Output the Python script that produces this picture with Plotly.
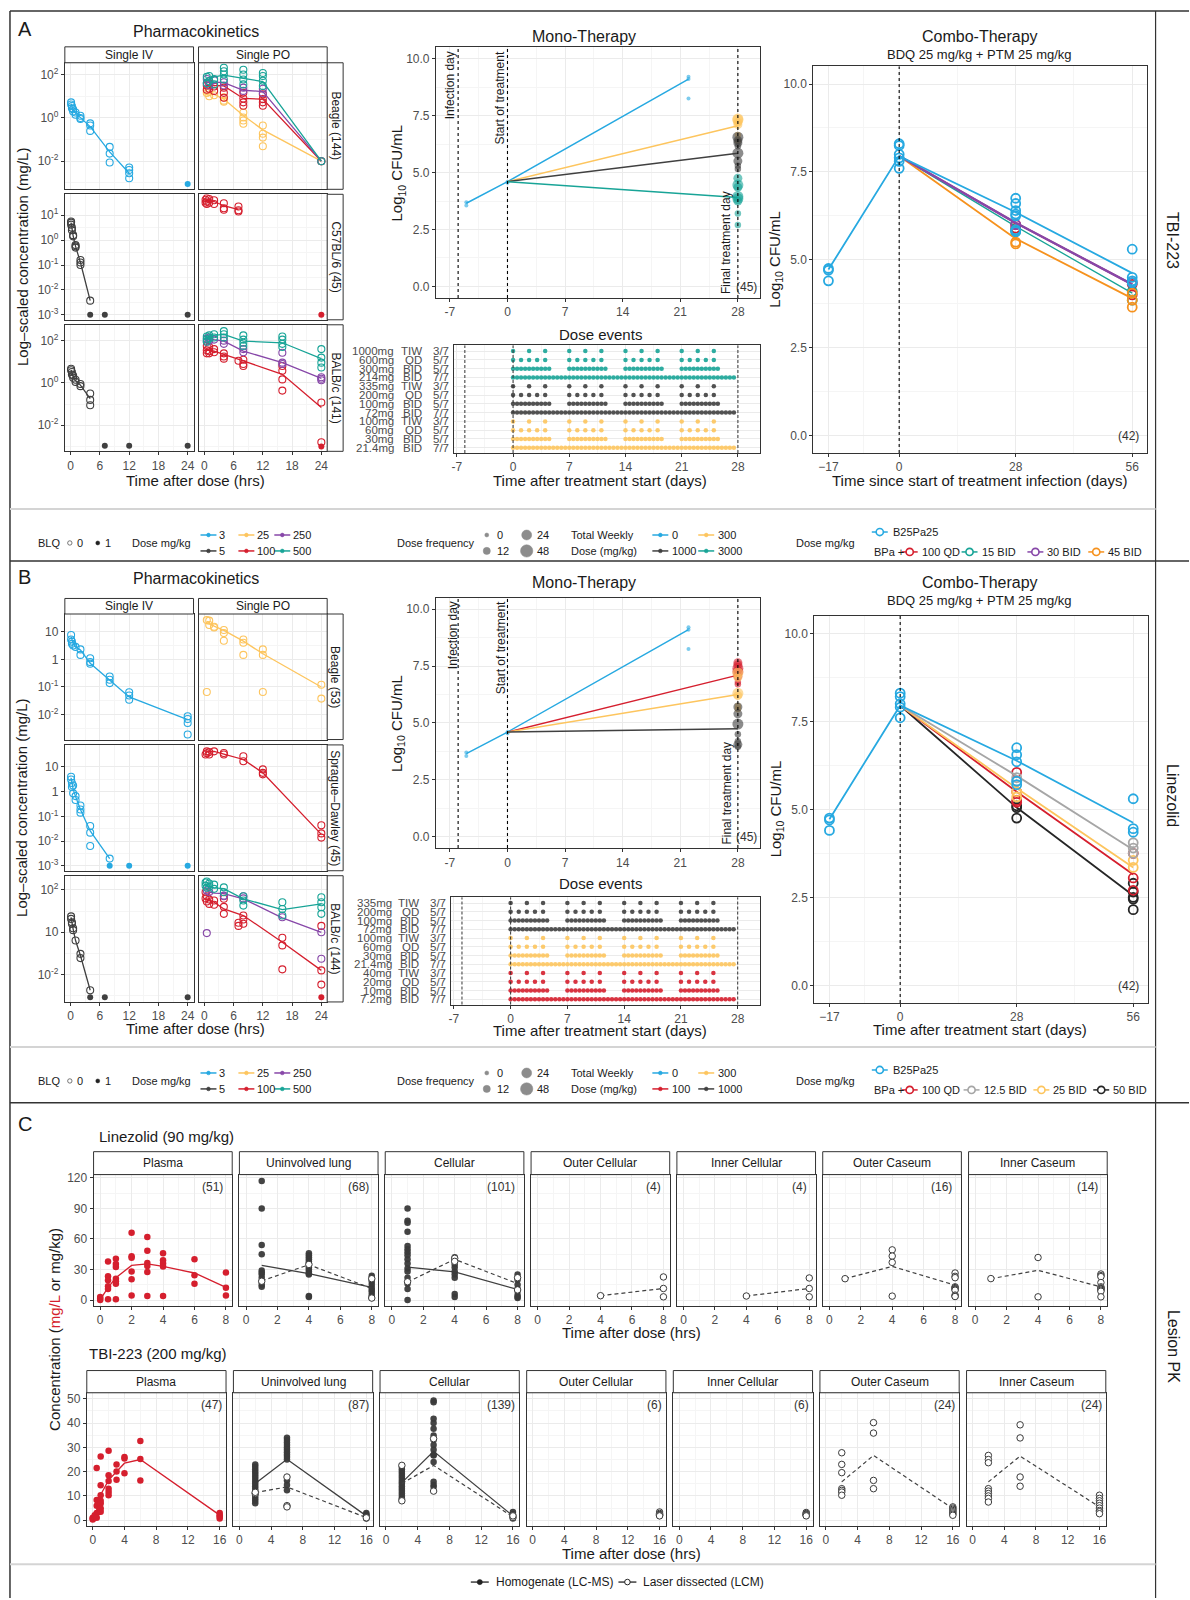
import plotly.graph_objects as go

# ============================ DATA ============================
# ---- Panel A PK (TBI-223), log10 concentration (mg/L); dict: time(h) -> observed values
A_BEAGLE_IV_OBS = {0.083: [0.72, 0.62], 0.25: [0.55, 0.45], 0.5: [0.40, 0.30], 1: [0.25, 0.15], 2: [0.10, 0.00, -0.05],
                   4: [-0.25, -0.35, -0.60], 8: [-1.34, -1.65, -2.06], 12: [-2.29, -2.41, -2.56, -2.79]}
A_BEAGLE_IV_BLQ = {24: [-3.05]}
A_BEAGLE_IV_FIT_T = [0.083, 0.25, 0.5, 1, 2, 4, 8, 12]
A_BEAGLE_IV_FIT_V = [0.66, 0.52, 0.38, 0.22, 0.02, -0.40, -1.57, -2.56]
BEAGLE_PO_FIT_T = [0.5, 1, 2, 4, 8, 12, 24]
A_BEAGLE_PO25_OBS = {0.5: [1.25, 1.15], 1: [1.20, 1.00], 2: [1.05], 4: [0.95, 0.80, 0.75], 8: [0.25, 0.02, -0.12, -0.27],
                     12: [-0.35, -0.73, -0.91, -1.31], 24: [-2.0]}
A_BEAGLE_PO25_FIT_V = [1.22, 1.15, 1.09, 0.87, 0.11, -0.55, -2.0]
A_BEAGLE_PO100_OBS = {0.5: [1.50, 1.30], 1: [1.60, 1.35], 2: [1.45, 1.25], 4: [1.40, 1.16, 0.93], 8: [1.16, 0.90, 0.72, 0.56],
                      12: [1.09, 0.87, 0.72, 0.56], 24: [-2.0]}
A_BEAGLE_PO100_FIT_V = [1.40, 1.56, 1.50, 1.48, 0.90, 0.87, -2.0]
A_BEAGLE_PO250_OBS = {0.5: [1.80, 1.60], 1: [1.70, 1.50], 2: [1.75], 4: [1.65, 1.50], 8: [1.40, 1.25], 12: [1.35, 1.15], 24: [-2.0]}
A_BEAGLE_PO250_FIT_V = [1.63, 1.68, 1.66, 1.63, 1.28, 1.22, -2.0]
A_BEAGLE_PO500_OBS = {0.5: [1.90, 1.60], 1: [1.94, 1.70], 2: [1.80, 1.55], 4: [2.32, 2.16, 2.01, 1.78],
                      8: [2.23, 2.01, 1.78, 1.55], 12: [2.08, 1.94, 1.72, 1.48], 24: [-2.0]}
A_BEAGLE_PO500_FIT_V = [1.70, 1.80, 1.90, 1.98, 1.83, 1.68, -2.0]

IV_FIT_T6 = [0.083, 0.25, 0.5, 1, 2, 4]
A_C57_IV_OBS = {0.083: [0.75, 0.70, 0.62], 0.25: [0.50, 0.40], 0.5: [0.20, 0.15], 1: [-0.20, -0.25, -0.30],
                2: [-0.80, -0.90, -1.00], 4: [-2.43]}
A_C57_IV_BLQ = {4: [-3.0], 7: [-3.0], 24: [-3.0]}
A_C57_IV_FIT_V = [0.70, 0.45, 0.17, -0.25, -0.90, -2.43]
A_C57_PO100_OBS = {0.25: [1.50, 1.62], 0.5: [1.68, 1.55, 1.45], 1: [1.65, 1.50], 2: [1.60, 1.45], 4: [1.48, 1.28, 1.22],
                   7: [1.35, 1.20, 1.15]}
A_C57_PO100_BLQ = {24: [-3.0]}
A_C57_PO100_FIT_T = [0.25, 0.5, 1, 2, 4, 7]
A_C57_PO100_FIT_V = [1.55, 1.58, 1.60, 1.55, 1.38, 1.22]

A_BALB_IV_OBS = {0.083: [0.67, 0.60], 0.25: [0.52, 0.40], 0.5: [0.35, 0.25], 1: [0.15, 0.05], 2: [-0.05, -0.15],
                 4: [-0.50, -0.80, -1.05]}
A_BALB_IV_BLQ = {7: [-2.97], 12: [-2.97], 24: [-2.97]}
A_BALB_IV_FIT_V = [0.62, 0.46, 0.30, 0.10, -0.10, -0.74]
BALB_PO_FIT_T = [0.5, 1, 2, 4, 8, 16, 24]
A_BALB_PO100_OBS = {0.5: [1.75, 1.55, 1.40], 1: [1.70, 1.50, 1.40], 2: [1.60, 1.45], 4: [1.40, 1.25, 1.15], 7: [1.05],
                    8: [1.10, 0.90, 0.80], 16: [0.80, 0.58, 0.17, -0.36], 24: [-0.92, -2.80]}
A_BALB_PO100_BLQ = {24: [-3.0]}
A_BALB_PO100_FIT_V = [1.60, 1.55, 1.50, 1.35, 1.04, 0.41, -1.16]
A_BALB_PO250_OBS = {0.5: [2.10, 1.95], 1: [2.15, 2.00], 2: [2.05], 4: [2.00, 1.85], 8: [1.60, 1.45], 16: [1.43, 0.96, 0.90],
                    24: [0.27, 0.13, 0.20]}
A_BALB_PO250_FIT_V = [2.05, 2.10, 2.05, 1.98, 1.51, 0.96, 0.22]
A_BALB_PO500_OBS = {0.5: [2.20, 2.05, 1.95], 1: [2.25, 2.10], 2: [2.30, 2.15], 4: [2.45, 2.30, 2.15], 8: [2.25, 2.05, 1.90, 1.75],
                    16: [2.20, 2.05, 1.85, 1.70], 24: [1.60, 1.20, 0.96, 0.73]}
A_BALB_PO500_FIT_V = [2.10, 2.20, 2.25, 2.30, 1.98, 1.90, 1.15]

# ---- Panel B PK (Linezolid)
B_BEAGLE_IV_OBS = {0.083: [0.88, 0.72], 0.25: [0.64, 0.56], 0.5: [0.50], 1: [0.45], 2: [0.36, 0.16], 4: [0.04, -0.10, -0.16],
                   8: [-0.62, -0.74, -0.86], 12: [-1.19, -1.31, -1.46], 24: [-2.06, -2.16, -2.30, -2.72]}
B_BEAGLE_IV_FIT_T = [0.083, 0.25, 0.5, 1, 2, 4, 8, 12, 24]
B_BEAGLE_IV_FIT_V = [0.82, 0.68, 0.58, 0.45, 0.34, -0.14, -0.74, -1.36, -2.18]
B_BEAGLE_PO25_OBS = {0.5: [1.42, -1.18], 1: [1.40, 1.24], 2: [1.18, 1.15], 4: [1.06, 0.95, 0.67], 8: [0.72, 0.60, 0.16],
                     12: [0.36, 0.16, -1.18], 24: [-0.92, -1.42]}
B_BEAGLE_PO25_FIT_V = [1.38, 1.30, 1.20, 1.05, 0.66, 0.20, -1.00]
B_SD_IV_OBS = {0.083: [0.60, 0.49], 0.25: [0.35, 0.19], 0.5: [0.25, -0.07], 1: [-0.18, -0.34], 2: [-0.56, -0.72, -0.85],
               4: [-1.39, -1.66, -2.20], 8: [-2.71]}
B_SD_IV_BLQ = {8: [-3.0], 12: [-3.0], 24: [-3.0]}
B_SD_IV_FIT_T = [0.083, 0.25, 0.5, 1, 2, 4, 8]
B_SD_IV_FIT_V = [0.56, 0.35, 0.10, -0.20, -0.72, -1.59, -2.71]
B_SD_PO100_OBS = {0.25: [1.50], 0.5: [1.63, 1.55], 1: [1.60, 1.50], 2: [1.63], 4: [1.56, 1.50], 8: [1.43, 1.23],
                  12: [0.90, 0.76, 0.70], 24: [-1.36, -1.69, -1.86]}
B_SD_PO100_FIT_T = [0.25, 0.5, 1, 2, 4, 8, 12, 24]
B_SD_PO100_FIT_V = [1.56, 1.60, 1.62, 1.63, 1.52, 1.30, 0.76, -1.73]
B_BALB_IV_OBS = {0.083: [0.75, 0.63], 0.25: [0.47, 0.40], 0.5: [0.19, 0.10], 1: [-0.39], 2: [-1.02, -1.22], 4: [-2.74]}
B_BALB_IV_BLQ = {4: [-3.07], 7: [-3.07], 24: [-3.07]}
B_BALB_IV_FIT_V = [0.70, 0.45, 0.15, -0.39, -1.10, -2.74]
B_BALB_PO_FIT_T = [0.25, 0.5, 1, 2, 4, 8, 16, 24]
B_BALB_PO100_OBS = {0.25: [1.89, 1.60], 0.5: [1.70, 1.45], 1: [1.55, 1.34], 2: [1.50, 1.30], 4: [1.58, 1.20, 0.87],
                    7: [0.30, 0.45], 8: [0.79, 0.60, 0.40], 16: [-0.26, -0.62, -1.75], 24: [0.30, -1.80, -2.47]}
B_BALB_PO100_BLQ = {24: [-3.07]}
B_BALB_PO100_FIT_V = [1.58, 1.55, 1.50, 1.42, 1.10, 0.79, -0.47, -1.80]
B_BALB_PO250_OBS = {0.5: [1.97, -0.04], 1: [1.90], 4: [1.73, 1.70], 8: [1.70, 1.60], 16: [0.71], 24: [0.00, -1.25]}
B_BALB_PO250_FIT_T = [0.5, 1, 2, 4, 8, 16, 24]
B_BALB_PO250_FIT_V = [1.97, 1.90, 1.85, 1.82, 1.58, 0.68, 0.00]
B_BALB_PO500_OBS = {0.25: [2.35, 2.20], 0.5: [2.40, 2.10], 1: [2.30, 2.15], 2: [2.25, 2.05], 4: [2.12, 1.89],
                    8: [1.70, 1.50, 1.26], 16: [1.42, 1.10, 0.79], 24: [1.65, 1.42, 1.18, 0.87]}
B_BALB_PO500_FIT_V = [2.27, 2.20, 2.15, 2.10, 2.06, 1.58, 1.07, 1.34]

# ---- Mono-therapy (log10 CFU/mL)
MONO_CTRL_OBS = {-5: [3.70, 3.55], 0: [4.60, 4.55], 22: [9.20, 9.10, 8.25]}
MONO_CTRL_FIT_T = [-5, 0, 22]
MONO_CTRL_FIT_V = [3.65, 4.60, 9.10]
MONO_FIT_T = [0, 28]
FINAL_DAY = 28
A_MONO_300_FIT_V = [4.60, 7.05]
A_MONO_300_D28 = [7.35, 7.30, 7.20, 7.10, 6.65, 6.40]
A_MONO_300_FREQ = [48, 48, 24, 24, 12, 12]
A_MONO_1000_FIT_V = [4.60, 5.85]
A_MONO_1000_D28 = [6.55, 6.40, 6.30, 6.15, 5.85, 5.50, 5.30, 5.15]
A_MONO_1000_FREQ = [48, 24, 24, 12, 48, 24, 12, 12]
A_MONO_3000_FIT_V = [4.60, 3.90]
A_MONO_3000_D28 = [4.75, 4.45, 4.35, 3.95, 3.85, 3.75, 3.20, 2.70]
A_MONO_3000_FREQ = [24, 48, 24, 48, 48, 24, 12, 12]
B_MONO_100_FIT_V = [4.60, 7.10]
B_MONO_100_D28 = [7.65, 7.55, 7.40, 7.25, 7.05, 6.80, 6.70]
B_MONO_100_FREQ = [24, 24, 48, 48, 24, 12, 12]
B_MONO_300_FIT_V = [4.60, 6.25]
B_MONO_300_D28 = [7.20, 7.00, 6.30, 6.20, 5.75, 5.60]
B_MONO_300_FREQ = [48, 24, 48, 24, 12, 12]
B_MONO_1000_FIT_V = [4.60, 4.75]
B_MONO_1000_D28 = [5.70, 5.40, 4.95, 4.50, 4.20, 4.05, 3.95]
B_MONO_1000_FREQ = [24, 24, 48, 12, 12, 24, 12]

# ---- Dose events
A_DOSE_LABELS = ["1000mg", "600mg", "300mg", "214mg", "335mg", "200mg", "100mg", "72mg", "100mg", "60mg", "30mg", "21.4mg"]
B_DOSE_LABELS = ["335mg", "200mg", "100mg", "72mg", "100mg", "60mg", "30mg", "21.4mg", "40mg", "20mg", "10mg", "7.2mg"]
DOSE_REGIMEN = ["TIW", "QD", "BID", "BID", "TIW", "QD", "BID", "BID", "TIW", "QD", "BID", "BID"]
DOSE_FRACTION = ["3/7", "5/7", "5/7", "7/7", "3/7", "5/7", "5/7", "7/7", "3/7", "5/7", "5/7", "7/7"]
TIW_DAYS = [0, 2, 4, 7, 9, 11, 14, 16, 18, 21, 23, 25]
QD5_DAYS = [0, 1, 2, 3, 4, 7, 8, 9, 10, 11, 14, 15, 16, 17, 18, 21, 22, 23, 24, 25]
BID5_DAYS = [0, 0.5, 1, 1.5, 2, 2.5, 3, 3.5, 4, 4.5, 7, 7.5, 8, 8.5, 9, 9.5, 10, 10.5, 11, 11.5,
             14, 14.5, 15, 15.5, 16, 16.5, 17, 17.5, 18, 18.5, 21, 21.5, 22, 22.5, 23, 23.5, 24, 24.5, 25, 25.5]
BID7_DAYS = [0, 0.5, 1, 1.5, 2, 2.5, 3, 3.5, 4, 4.5, 5, 5.5, 6, 6.5, 7, 7.5, 8, 8.5, 9, 9.5, 10, 10.5, 11, 11.5,
             12, 12.5, 13, 13.5, 14, 14.5, 15, 15.5, 16, 16.5, 17, 17.5, 18, 18.5, 19, 19.5, 20, 20.5, 21, 21.5,
             22, 22.5, 23, 23.5, 24, 24.5, 25, 25.5, 26, 26.5, 27, 27.5]

# ---- Combo-therapy (log10 CFU/mL)
COMBO_CTRL_FIT_T = [-17, 0, 28, 56]
COMBO_FIT_T = [0, 28, 56]
A_COMBO_CTRL_OBS = {-17: [4.75, 4.70, 4.40], 0: [8.30, 8.25, 8.00, 7.90, 7.80, 7.60],
                    28: [6.75, 6.60, 6.40, 6.30, 6.25, 5.85, 5.80], 56: [5.30, 4.50, 4.40, 4.35]}
A_COMBO_CTRL_FIT_V = [4.72, 7.95, 6.35, 4.62]
A_COMBO_100QD_OBS = {28: [6.00, 5.90], 56: [4.30, 4.00]}
A_COMBO_100QD_FIT_V = [7.95, 6.05, 4.30]
A_COMBO_15BID_OBS = {28: [5.85, 5.80], 56: [4.10, 3.85]}
A_COMBO_15BID_FIT_V = [7.95, 5.95, 4.05]
A_COMBO_30BID_OBS = {28: [6.00], 56: [4.35]}
A_COMBO_30BID_FIT_V = [7.95, 6.05, 4.30]
A_COMBO_45BID_OBS = {28: [5.50, 5.45], 56: [4.05, 3.85, 3.65]}
A_COMBO_45BID_FIT_V = [7.95, 5.60, 3.90]
B_COMBO_CTRL_OBS = {-17: [4.75, 4.70, 4.40], 0: [8.30, 8.20, 8.00, 7.90, 7.60],
                    28: [6.75, 6.55, 6.35, 5.80, 5.70], 56: [5.30, 4.45, 4.35]}
B_COMBO_CTRL_FIT_V = [4.72, 7.95, 6.38, 4.62]
B_COMBO_100QD_OBS = {28: [6.05, 5.50, 5.25, 5.20], 56: [3.75, 3.05, 2.70]}
B_COMBO_100QD_FIT_V = [7.95, 5.50, 3.15]
B_COMBO_125BID_OBS = {28: [5.90, 5.80], 56: [4.05, 3.90, 3.75]}
B_COMBO_125BID_FIT_V = [7.95, 5.95, 3.85]
B_COMBO_25BID_OBS = {28: [5.50, 5.35], 56: [3.55, 3.35]}
B_COMBO_25BID_FIT_V = [7.95, 5.60, 3.35]
B_COMBO_50BID_OBS = {28: [5.10, 5.05, 4.75], 56: [2.90, 2.65, 2.50, 2.45, 2.15]}
B_COMBO_50BID_FIT_V = [7.95, 5.05, 2.55]

# ---- Panel C lesion PK (mg/L or mg/kg)
C_TISSUES = ["Plasma", "Uninvolved lung", "Cellular", "Outer Cellular", "Inner Cellular", "Outer Caseum", "Inner Caseum"]
LZD_COUNTS = ["(51)", "(68)", "(101)", "(4)", "(4)", "(16)", "(14)"]
TBI_COUNTS = ["(47)", "(87)", "(139)", "(6)", "(6)", "(24)", "(24)"]
LZD_PLASMA = {0: [0.0, 1.5, 3.0], 0.5: [38.0, 23.5, 19.5, 13.5, 11.0, 0.7], 1: [40.5, 35.5, 32.5, 21.0, 18.5, 16.0, 0.7],
              2: [66.0, 43.0, 41.5, 28.0, 20.5, 4.5], 3: [62.0, 48.5, 36.5, 33.5, 27.5, 4.0], 4: [46.0, 39.0, 36.0, 33.0, 4.0],
              6: [40.0, 24.5, 16.0], 8: [27.0, 12.0, 4.5]}
LZD_PLASMA_FIT_T = [0, 0.5, 1, 2, 3, 4, 6, 8]
LZD_PLASMA_FIT_V = [0.5, 12.3, 22.0, 34.0, 35.5, 33.0, 26.6, 12.4]
LZD_T3 = [1, 4, 8]
LZD_LUNG_HOM = {1: [117, 90, 54, 45, 29, 27, 25, 22, 18, 15, 13], 4: [46, 44, 42, 40, 38, 36, 34, 32, 30, 28, 26, 25, 4, 3],
                8: [24, 22, 20, 18, 15, 12, 10, 8, 5, 3, 2]}
LZD_LUNG_HOM_FIT_V = [34.0, 26.0, 12.4]
LZD_LUNG_LCM = {1: [18.5], 4: [35.0], 8: [21.0, 2.0]}
LZD_LUNG_LCM_FIT_V = [18.9, 34.7, 11.4]
LZD_CELL_HOM = {1: [90, 78, 76, 67, 53, 50, 47, 44, 40, 36, 31, 28, 22, 16, 11, 0], 4: [42, 40, 38, 35, 32, 28, 25, 22, 6, 3],
                8: [25, 22, 20, 15, 11, 9, 5, 3, 2]}
LZD_CELL_HOM_FIT_V = [32.4, 27.6, 10.4]
LZD_CELL_LCM = {1: [18.0], 4: [41.0, 38.0], 8: [22.0, 10.0]}
LZD_CELL_LCM_FIT_V = [17.8, 40.0, 16.2]
LZD_T2 = [4, 8]
LZD_OCELL_LCM = {4: [4.3], 8: [22.7, 11.4, 3.2]}
LZD_OCELL_LCM_FIT_V = [4.3, 11.4]
LZD_ICELL_LCM = {4: [4.0], 8: [21.7, 11.4, 3.2]}
LZD_ICELL_LCM_FIT_V = [4.0, 11.4]
LZD_OCAS_LCM = {1: [21.0], 4: [49.3, 43.2, 37.0, 3.9], 8: [26.6, 23.3, 22.0, 13.0, 12.3, 11.4, 10.5, 9.7, 4.9, 3.9, 3.5]}
LZD_OCAS_LCM_FIT_V = [21.0, 33.1, 14.6]
LZD_ICAS_LCM = {1: [21.1], 4: [41.8, 3.2], 8: [25.6, 24.0, 23.0, 17.2, 13.0, 12.0, 11.4, 10.7, 9.7, 8.7, 3.2]}
LZD_ICAS_LCM_FIT_V = [21.0, 29.2, 13.0]

TBI_PLASMA = {0: [0.3, 0.7, 1.0], 0.25: [1.4, 2.1], 0.5: [21.5, 8.3, 6.0, 3.0, 1.0], 0.75: [8.2, 7.0, 3.4],
              1: [26.3, 14.4, 10.3, 8.0, 6.9, 4.8, 3.5], 2: [28.6, 18.5, 16.2, 13.0, 11.6, 10.3], 3: [23.0, 20.1, 16.7],
              4: [26.0, 25.4, 19.3], 6: [32.6, 25.2, 16.4], 16: [3.0, 2.05, 1.5, 0.7]}
TBI_PLASMA_FIT_T = [0, 0.25, 0.5, 1, 2, 3, 4, 6, 16]
TBI_PLASMA_FIT_V = [0.3, 1.5, 4.0, 10.5, 16.5, 20.1, 23.5, 25.0, 2.1]
TBI_T3 = [2, 6, 16]
TBI_LUNG_HOM = {2: [23, 22, 21, 20, 19, 18, 17, 16, 15, 14, 13, 12, 11, 10, 9, 8, 7],
                6: [34, 33, 32, 31, 30, 29, 28, 27, 26, 25, 16.4, 14.5, 12.3], 16: [3.0, 2.5, 2.0, 1.5, 1.0, 0.7]}
TBI_LUNG_HOM_FIT_V = [15.1, 25.1, 1.8]
TBI_LUNG_LCM = {2: [11.0, 11.5], 6: [17.8, 6.0, 5.5], 16: [1.0]}
TBI_LUNG_LCM_FIT_V = [11.4, 13.7, 1.1]
TBI_CELL_HOM = {2: [22, 21, 20, 19, 18, 17, 16, 15, 14, 13, 12, 11, 10, 9, 8.5],
                6: [49.3, 48.6, 41.8, 40.0, 37.7, 34.9, 33.0, 31.0, 29.0, 27.0, 26.7, 24.0, 15.8, 14.5, 13.7],
                16: [3.4, 2.5, 2.0, 1.5, 1.0, 0.7]}
TBI_CELL_HOM_FIT_V = [15.5, 28.4, 1.8]
TBI_CELL_LCM = {2: [22.6, 8.0], 6: [33.6, 12.0], 16: [1.2, 1.8]}
TBI_CELL_LCM_FIT_V = [15.1, 22.6, 1.4]
TBI_OCELL_LCM = {16: [3.4, 2.8, 2.4, 2.2, 2.0, 1.8]}
TBI_ICELL_LCM = {16: [3.2, 2.8, 2.5, 2.2, 2.0, 1.8]}
TBI_OCAS_LCM = {2: [27.8, 23.0, 19.6, 13.0, 12.3, 11.6, 10.3], 6: [40.2, 35.9, 16.4, 13.0],
                16: [5.5, 5.0, 4.5, 4.0, 3.5, 3.0, 2.5, 2.05]}
TBI_OCAS_LCM_FIT_V = [15.8, 26.7, 4.8]
TBI_ICAS_LCM = {2: [26.7, 25.0, 23.7, 13.0, 12.0, 11.0, 10.0, 9.0, 7.5], 6: [39.3, 33.9, 17.8, 14.0],
                16: [10.3, 9.0, 8.0, 7.0, 6.0, 5.0, 4.0, 3.5, 2.7]}
TBI_ICAS_LCM_FIT_V = [15.8, 26.4, 5.5]

# ============================ STYLE ============================
W, H = 1190, 1600
FONT = "Liberation Sans, Arial, sans-serif"
INK = "#1A1A1A"
TICKC = "#4D4D4D"
GRID = "#EBEBEB"
GRIDMINOR = "#F5F5F5"
BORDER = "#333333"
BLUE = "#27A9E1"
DGREY = "#404040"
YELLOW = "#FDC55E"
RED = "#D51F2E"
PURPLE = "#8747A8"
TEAL = "#18A497"
ORANGE = "#F6921E"
LGREY = "#A6A6A6"
BLACK = "#262626"
FREQ_SIZE = {0: 4, 12: 6.5, 24: 9, 48: 11}

fig = go.Figure()
LAYOUT = {}
SHAPES = []
ANNS = []
AXN = [0]


def px(x):
    return x / W


def py(y):
    return 1 - y / H


def text(x, y, s, size=12, color=INK, xanchor="center", yanchor="middle", angle=0):
    ANNS.append(dict(x=px(x), y=py(y), xref="paper", yref="paper", text=s, showarrow=False,
                     font=dict(family=FONT, size=size, color=color), xanchor=xanchor, yanchor=yanchor,
                     textangle=angle))


def pline(x0, y0, x1, y1, color, width, dash=None):
    SHAPES.append(dict(type="line", xref="paper", yref="paper", x0=px(x0), y0=py(y0), x1=px(x1), y1=py(y1),
                       line=dict(color=color, width=width, dash=dash)))


def prect(x0, y0, x1, y1, fill="white", color=BORDER, width=1):
    SHAPES.append(dict(type="rect", xref="paper", yref="paper", x0=px(x0), y0=py(y1), x1=px(x1), y1=py(y0),
                       fillcolor=fill, line=dict(color=color, width=width)))


def pcircle(cx, cy, r, fill, color, width=1):
    SHAPES.append(dict(type="circle", xref="paper", yref="paper", x0=px(cx - r), x1=px(cx + r),
                       y0=py(cy + r), y1=py(cy - r), fillcolor=fill, line=dict(color=color, width=width)))


def axes(box, xr, yr, xt, yt, xtt=None, ytt=None, xminor=None, yminor=None, xlab=True, ylab=True, fs=12):
    AXN[0] += 1
    n = AXN[0]
    s = "" if n == 1 else str(n)
    x0, y0, x1, y1 = box

    def base():
        return dict(showgrid=True, gridcolor=GRID, gridwidth=1, zeroline=False, showline=True, mirror=True,
                    linecolor=BORDER, linewidth=1, tickfont=dict(family=FONT, size=fs, color=TICKC),
                    tickcolor=BORDER, ticklen=3, tickwidth=1, fixedrange=True, tickmode="array")
    xa = base()
    ya = base()
    xa.update(domain=[px(x0), px(x1)], range=xr, anchor="y" + s, tickvals=xt, showticklabels=xlab,
              ticks="outside" if xlab else "")
    ya.update(domain=[py(y1), py(y0)], range=yr, anchor="x" + s, tickvals=yt, showticklabels=ylab,
              ticks="outside" if ylab else "")
    if xlab:
        xa["ticktext"] = xtt if xtt is not None else [str(v) for v in xt]
    if ylab:
        ya["ticktext"] = ytt if ytt is not None else [str(v) for v in yt]
    if xminor:
        xa["minor"] = dict(tickmode="array", tickvals=xminor, showgrid=True, gridcolor=GRIDMINOR, gridwidth=1, ticks="")
    if yminor:
        ya["minor"] = dict(tickmode="array", tickvals=yminor, showgrid=True, gridcolor=GRIDMINOR, gridwidth=1, ticks="")
    LAYOUT["xaxis" + s] = xa
    LAYOUT["yaxis" + s] = ya
    return ("x" + s, "y" + s)


def flat(d):
    t, v = [], []
    for k, vals in d.items():
        for val in vals:
            t.append(k)
            v.append(val)
    return t, v


def add_line(ax, t, v, color, width=1.3, dash=None):
    fig.add_trace(go.Scatter(x=t, y=v, xaxis=ax[0], yaxis=ax[1], mode="lines",
                             line=dict(color=color, width=width, dash=dash), showlegend=False, hoverinfo="skip"))


def add_pts(ax, t, v, color, symbol="circle-open", size=7, lw=1.1, fill=None, opacity=1.0):
    m = dict(symbol=symbol, size=size, opacity=opacity)
    if symbol == "circle-open":
        m.update(color=color, line=dict(width=lw, color=color))
    elif fill is not None:
        m.update(color=fill, line=dict(width=lw, color=color))
    else:
        m.update(color=color, line=dict(width=0))
    fig.add_trace(go.Scatter(x=t, y=v, xaxis=ax[0], yaxis=ax[1], mode="markers", marker=m,
                             showlegend=False, hoverinfo="skip"))


def vdash(ax, x, color="black", width=1.1, dash="3px,3px"):
    SHAPES.append(dict(type="line", xref=ax[0], yref=ax[1] + " domain", x0=x, x1=x, y0=0, y1=1,
                       line=dict(color=color, width=width, dash=dash)))


def pk_group(ax, color, obs, fit_t, fit_v, blq=None):
    add_line(ax, fit_t, fit_v, color, 1.3)
    t, v = flat(obs)
    add_pts(ax, t, v, color, "circle-open", 7, 1.1)
    if blq:
        t, v = flat(blq)
        add_pts(ax, t, v, color, "circle", 6)


# ============================ FRAME ============================
pline(8, 7, 8, 1600, BORDER, 1.5)
pline(8, 7, 1190, 7, BORDER, 1.5)
pline(1156.5, 7, 1156.5, 1600, BORDER, 1.2)
pline(8, 559, 1190, 559, BORDER, 1.5)
pline(8, 1103, 1190, 1103, BORDER, 1.5)
for yy in (507, 1047, 1566):
    pline(8, yy, 1156.5, yy, "#D4D4D4", 2)
text(23, 25, "A", 20)
text(23, 575, "B", 20)
text(23, 1124, "C", 20)
text(1174, 237, "TBI-223", 16, angle=90)
text(1174, 794, "Linezolid", 16, angle=90)
text(1174, 1347, "Lesion PK", 16, angle=90)

# ============================ PK PANELS ============================
PK_XR = [-1.2, 25.2]
PK_XT = [0, 6, 12, 18, 24]
PK_XMINOR = [3, 9, 15, 21]


def sup(e):
    return "10<sup>%s</sup>" % e


def pk_block(rows, yrs, yts, ytts, yminors, row_labels, strip_y, title_y, xtitle_y):
    out = []
    for i in range(3):
        y0, y1 = rows[i]
        last = i == 2
        iv = axes((63, y0, 192, y1), PK_XR, yrs[i], PK_XT, yts[i], ytt=ytts[i], xminor=PK_XMINOR,
                  yminor=yminors[i], xlab=last, ylab=True)
        po = axes((197, y0, 326, y1), PK_XR, yrs[i], PK_XT, yts[i], ytt=ytts[i], xminor=PK_XMINOR,
                  yminor=yminors[i], xlab=last, ylab=False)
        prect(326, y0, 342, y1)
        text(334.5, (y0 + y1) / 2, row_labels[i], 12, INK, angle=90)
        out.append((iv, po))
    prect(63, strip_y[0], 192, strip_y[1])
    prect(197, strip_y[0], 326, strip_y[1])
    text(127.5, (strip_y[0] + strip_y[1]) / 2, "Single IV", 12)
    text(261.5, (strip_y[0] + strip_y[1]) / 2, "Single PO", 12)
    text(194, title_y, "Pharmacokinetics", 16)
    text(194, xtitle_y, "Time after dose (hrs)", 15)
    text(20, (rows[0][0] + rows[2][1]) / 2, "Log\u2013scaled concentration (mg/L)", 15, angle=-90)
    return out


A_PK = pk_block([(59, 186), (191, 317), (322, 449)],
                [[-3.3, 2.55], [-3.2, 1.84], [-3.23, 2.75]],
                [[2, 0, -2], [1, 0, -1, -2, -3], [2, 0, -2]],
                [[sup(2), sup(0), sup(-2)], [sup(1), sup(0), sup(-1), sup(-2), sup(-3)], [sup(2), sup(0), sup(-2)]],
                [[1, -1, -3], [0.5, -0.5, -1.5, -2.5], [1, -1, -3]],
                ["Beagle (144)", "C57BL/6 (45)", "BALB/c (141)"], (43, 59), 28, 478)
iv, po = A_PK[0]
pk_group(iv, BLUE, A_BEAGLE_IV_OBS, A_BEAGLE_IV_FIT_T, A_BEAGLE_IV_FIT_V, A_BEAGLE_IV_BLQ)
pk_group(po, YELLOW, A_BEAGLE_PO25_OBS, BEAGLE_PO_FIT_T, A_BEAGLE_PO25_FIT_V)
pk_group(po, RED, A_BEAGLE_PO100_OBS, BEAGLE_PO_FIT_T, A_BEAGLE_PO100_FIT_V)
pk_group(po, PURPLE, A_BEAGLE_PO250_OBS, BEAGLE_PO_FIT_T, A_BEAGLE_PO250_FIT_V)
pk_group(po, TEAL, A_BEAGLE_PO500_OBS, BEAGLE_PO_FIT_T, A_BEAGLE_PO500_FIT_V)
iv, po = A_PK[1]
pk_group(iv, DGREY, A_C57_IV_OBS, IV_FIT_T6, A_C57_IV_FIT_V, A_C57_IV_BLQ)
pk_group(po, RED, A_C57_PO100_OBS, A_C57_PO100_FIT_T, A_C57_PO100_FIT_V, A_C57_PO100_BLQ)
iv, po = A_PK[2]
pk_group(iv, DGREY, A_BALB_IV_OBS, IV_FIT_T6, A_BALB_IV_FIT_V, A_BALB_IV_BLQ)
pk_group(po, RED, A_BALB_PO100_OBS, BALB_PO_FIT_T, A_BALB_PO100_FIT_V, A_BALB_PO100_BLQ)
pk_group(po, PURPLE, A_BALB_PO250_OBS, BALB_PO_FIT_T, A_BALB_PO250_FIT_V)
pk_group(po, TEAL, A_BALB_PO500_OBS, BALB_PO_FIT_T, A_BALB_PO500_FIT_V)

B_PK = pk_block([(612.3, 738.3), (743.7, 870), (875, 1001.7)],
                [[-2.9, 1.64], [-3.2, 1.89], [-3.29, 2.67]],
                [[1, 0, -1, -2], [1, 0, -1, -2, -3], [2, 0, -2]],
                [["10", "1", sup(-1), sup(-2)], ["10", "1", sup(-1), sup(-2), sup(-3)], [sup(2), "10", sup(-2)]],
                [[0.5, -0.5, -1.5, -2.5], [0.5, -0.5, -1.5, -2.5], [1, -1, -3]],
                ["Beagle (53)", "Sprague\u2013Dawley (45)", "BALB/c (144)"], (596.7, 612.3), 577, 1028)
iv, po = B_PK[0]
pk_group(iv, BLUE, B_BEAGLE_IV_OBS, B_BEAGLE_IV_FIT_T, B_BEAGLE_IV_FIT_V)
pk_group(po, YELLOW, B_BEAGLE_PO25_OBS, BEAGLE_PO_FIT_T, B_BEAGLE_PO25_FIT_V)
iv, po = B_PK[1]
pk_group(iv, BLUE, B_SD_IV_OBS, B_SD_IV_FIT_T, B_SD_IV_FIT_V, B_SD_IV_BLQ)
pk_group(po, RED, B_SD_PO100_OBS, B_SD_PO100_FIT_T, B_SD_PO100_FIT_V)
iv, po = B_PK[2]
pk_group(iv, DGREY, B_BALB_IV_OBS, IV_FIT_T6, B_BALB_IV_FIT_V, B_BALB_IV_BLQ)
pk_group(po, RED, B_BALB_PO100_OBS, B_BALB_PO_FIT_T, B_BALB_PO100_FIT_V, B_BALB_PO100_BLQ)
pk_group(po, PURPLE, B_BALB_PO250_OBS, B_BALB_PO250_FIT_T, B_BALB_PO250_FIT_V)
pk_group(po, TEAL, B_BALB_PO500_OBS, B_BALB_PO_FIT_T, B_BALB_PO500_FIT_V)

# ============================ MONO-THERAPY ============================
MONO_XR = [-8.7, 30.7]
MONO_XT = [-7, 0, 7, 14, 21, 28]
MONO_XMINOR = [-3.5, 3.5, 10.5, 17.5, 24.5]
CFU_YR = [-0.5, 10.5]
CFU_YT = [0, 2.5, 5, 7.5, 10]
CFU_YTT = ["0.0", "2.5", "5.0", "7.5", "10.0"]
CFU_YMINOR = [1.25, 3.75, 6.25, 8.75]
LOG10_LABEL = "Log<sub>10</sub> CFU/mL"


def mono_block(box, groups, title_y, ann):
    ax = axes(box, MONO_XR, CFU_YR, MONO_XT, CFU_YT, ytt=CFU_YTT, xminor=MONO_XMINOR, yminor=CFU_YMINOR)
    for xv in (-6, 0, FINAL_DAY):
        vdash(ax, xv)
    t, v = flat(MONO_CTRL_OBS)
    add_line(ax, MONO_CTRL_FIT_T, MONO_CTRL_FIT_V, BLUE, 1.5)
    add_pts(ax, t, v, BLUE, "circle", FREQ_SIZE[0], opacity=0.6)
    for color, fit_v, d28, freq in groups:
        add_line(ax, MONO_FIT_T, fit_v, color, 1.5)
        add_pts(ax, [FINAL_DAY] * len(d28), d28, color, "circle", [FREQ_SIZE[f] for f in freq], opacity=0.6)
    text(583, title_y, "Mono-Therapy", 16)
    text(397, (box[1] + box[3]) / 2, LOG10_LABEL, 15, angle=-90)
    (ix, iy), (sx, sy), (fx, fy) = ann
    text(ix, iy, "Infection day", 12, angle=-90)
    text(sx, sy, "Start of treatment", 12, angle=-90)
    text(fx, fy, "Final treatment day", 12, angle=-90)
    text(759, box[3] - 11, "(45)", 12, "#333333", xanchor="right")
    return ax


mono_block((435, 43.3, 760, 295),
           [(YELLOW, A_MONO_300_FIT_V, A_MONO_300_D28, A_MONO_300_FREQ),
            (DGREY, A_MONO_1000_FIT_V, A_MONO_1000_D28, A_MONO_1000_FREQ),
            (TEAL, A_MONO_3000_FIT_V, A_MONO_3000_D28, A_MONO_3000_FREQ)],
           33, ((450, 81.7), (499.3, 94.8), (726, 239.8)))
mono_block((435, 596, 760, 847.3),
           [(RED, B_MONO_100_FIT_V, B_MONO_100_D28, B_MONO_100_FREQ),
            (YELLOW, B_MONO_300_FIT_V, B_MONO_300_D28, B_MONO_300_FREQ),
            (DGREY, B_MONO_1000_FIT_V, B_MONO_1000_D28, B_MONO_1000_FREQ)],
           581, ((451.7, 634), (500, 646), (726.7, 791.7)))

# ============================ DOSE EVENTS ============================
DOSE_XR = [-7.37, 30.76]
SCHEDULES = [TIW_DAYS, QD5_DAYS, BID5_DAYS, BID7_DAYS]


def dose_block(box, labels, colors, title_y, xtitle_y, lx):
    rows = list(range(12, 0, -1))
    ax = axes(box, DOSE_XR, [0.4, 12.65], MONO_XT, rows, xminor=MONO_XMINOR, ylab=False)
    for xv in (-6, 0, FINAL_DAY):
        vdash(ax, xv, "#333333", 1, "3px,2px")
    for i, row in enumerate(rows):
        days = SCHEDULES[i % 4]
        color = colors[i // 4]
        add_pts(ax, days, [row] * len(days), color, "circle", 4.5, opacity=0.9)
        for xx, s in ((lx[0], labels[i]), (lx[1], DOSE_REGIMEN[i]), (lx[2], DOSE_FRACTION[i])):
            ANNS.append(dict(x=px(xx), y=row, xref="paper", yref=ax[1], text=s, showarrow=False,
                             font=dict(family=FONT, size=11.5, color=TICKC), xanchor="right", yanchor="middle"))
    text(600, title_y, "Dose events", 15)
    text(600, xtitle_y, "Time after treatment start (days)", 15)


dose_block((453, 342.7, 760, 450.7), A_DOSE_LABELS, [TEAL, DGREY, YELLOW], 331.7, 478, (395, 423, 450))
dose_block((450, 896.7, 760, 1004.3), B_DOSE_LABELS, [DGREY, YELLOW, RED], 883.3, 1030, (393, 420, 447))

# ============================ COMBO-THERAPY ============================
COMBO_XR = [-20.65, 59.65]
COMBO_XT = [-17, 0, 28, 56]
COMBO_XTT = ["\u221217", "0", "28", "56"]
COMBO_XMINOR = [-8.5, 14, 42]


def combo_block(box, ctrl_obs, ctrl_fit, groups, title_y, xtitle, xtitle_y):
    ax = axes(box, COMBO_XR, CFU_YR, COMBO_XT, CFU_YT, xtt=COMBO_XTT, ytt=CFU_YTT, xminor=COMBO_XMINOR,
              yminor=CFU_YMINOR)
    vdash(ax, 0)
    for color, obs, fit_v, width in groups:
        add_line(ax, COMBO_FIT_T, fit_v, color, width)
        t, v = flat(obs)
        add_pts(ax, t, v, color, "circle-open", 9, 1.8)
    add_line(ax, COMBO_CTRL_FIT_T, ctrl_fit, BLUE, 1.8)
    t, v = flat(ctrl_obs)
    add_pts(ax, t, v, BLUE, "circle-open", 9, 1.8)
    text(980, title_y, "Combo-Therapy", 16)
    text(980, title_y + 17.5, "BDQ 25 mg/kg + PTM 25 mg/kg", 13)
    text(776, (box[1] + box[3]) / 2, LOG10_LABEL, 15, angle=-90)
    text(980, xtitle_y, xtitle, 15)
    text(1141.5, box[3] - 17, "(42)", 12, "#333333", xanchor="right")


combo_block((813.3, 62.7, 1148.3, 450.7), A_COMBO_CTRL_OBS, A_COMBO_CTRL_FIT_V,
            [(RED, A_COMBO_100QD_OBS, A_COMBO_100QD_FIT_V, 1.8),
             (TEAL, A_COMBO_15BID_OBS, A_COMBO_15BID_FIT_V, 1.3),
             (ORANGE, A_COMBO_45BID_OBS, A_COMBO_45BID_FIT_V, 1.8),
             (PURPLE, A_COMBO_30BID_OBS, A_COMBO_30BID_FIT_V, 2.4)],
            33, "Time since start of treatment infection (days)", 478)
combo_block((814.3, 614, 1149.3, 1002.7), B_COMBO_CTRL_OBS, B_COMBO_CTRL_FIT_V,
            [(BLACK, B_COMBO_50BID_OBS, B_COMBO_50BID_FIT_V, 1.8),
             (RED, B_COMBO_100QD_OBS, B_COMBO_100QD_FIT_V, 1.8),
             (YELLOW, B_COMBO_25BID_OBS, B_COMBO_25BID_FIT_V, 1.8),
             (LGREY, B_COMBO_125BID_OBS, B_COMBO_125BID_FIT_V, 1.8)],
            581, "Time after treatment start (days)", 1029)

# ============================ PANEL C ============================
C_TOP = dict(x0=91.8, pitch=146.2, w=139, y0=1175, y1=1307, strip=(1152, 1175), xr=[-0.42, 8.4],
             xt=[0, 2, 4, 6, 8], xminor=[1, 3, 5, 7], yr=[-5.9, 123.2], yt=[0, 30, 60, 90, 120],
             yminor=[15, 45, 75, 105], count_dx=7)
C_BOT = dict(x0=85, pitch=147, w=139.6, y0=1394, y1=1527.3, strip=(1371.7, 1394), xr=[-0.75, 16.8],
             xt=[0, 4, 8, 12, 16], xminor=[2, 6, 10, 14], yr=[-2.2, 52.5], yt=[0, 10, 20, 30, 40, 50],
             yminor=[5, 15, 25, 35, 45], count_dx=2)


def c_row(cfg, counts):
    axs = []
    for k in range(7):
        x0 = cfg["x0"] + k * cfg["pitch"]
        x1 = x0 + cfg["w"]
        ax = axes((x0, cfg["y0"], x1, cfg["y1"]), cfg["xr"], cfg["yr"], cfg["xt"], cfg["yt"],
                  xminor=cfg["xminor"], yminor=cfg["yminor"], ylab=(k == 0))
        prect(x0, cfg["strip"][0], x1, cfg["strip"][1])
        text((x0 + x1) / 2, (cfg["strip"][0] + cfg["strip"][1]) / 2, C_TISSUES[k], 12)
        text(x1 - cfg["count_dx"], cfg["y0"] + 12, counts[k], 12, "#333333", xanchor="right")
        axs.append(ax)
    return axs


def hom(ax, obs, fit_t, fit_v):
    add_line(ax, fit_t, fit_v, DGREY, 1.3)
    t, v = flat(obs)
    add_pts(ax, t, v, "#3A3A3A", "circle", 6.5, opacity=0.95)


def lcm(ax, obs, fit_t=None, fit_v=None):
    if fit_t is not None:
        add_line(ax, fit_t, fit_v, DGREY, 1.2, "4px,3px")
    t, v = flat(obs)
    add_pts(ax, t, v, "#3A3A3A", "circle", 6.5, lw=1, fill="white")


top = c_row(C_TOP, LZD_COUNTS)
add_line(top[0], LZD_PLASMA_FIT_T, LZD_PLASMA_FIT_V, RED, 1.3)
t, v = flat(LZD_PLASMA)
add_pts(top[0], t, v, RED, "circle", 6.5)
hom(top[1], LZD_LUNG_HOM, LZD_T3, LZD_LUNG_HOM_FIT_V)
lcm(top[1], LZD_LUNG_LCM, LZD_T3, LZD_LUNG_LCM_FIT_V)
hom(top[2], LZD_CELL_HOM, LZD_T3, LZD_CELL_HOM_FIT_V)
lcm(top[2], LZD_CELL_LCM, LZD_T3, LZD_CELL_LCM_FIT_V)
lcm(top[3], LZD_OCELL_LCM, LZD_T2, LZD_OCELL_LCM_FIT_V)
lcm(top[4], LZD_ICELL_LCM, LZD_T2, LZD_ICELL_LCM_FIT_V)
lcm(top[5], LZD_OCAS_LCM, LZD_T3, LZD_OCAS_LCM_FIT_V)
lcm(top[6], LZD_ICAS_LCM, LZD_T3, LZD_ICAS_LCM_FIT_V)

bot = c_row(C_BOT, TBI_COUNTS)
add_line(bot[0], TBI_PLASMA_FIT_T, TBI_PLASMA_FIT_V, RED, 1.3)
t, v = flat(TBI_PLASMA)
add_pts(bot[0], t, v, RED, "circle", 6.5)
hom(bot[1], TBI_LUNG_HOM, TBI_T3, TBI_LUNG_HOM_FIT_V)
lcm(bot[1], TBI_LUNG_LCM, TBI_T3, TBI_LUNG_LCM_FIT_V)
hom(bot[2], TBI_CELL_HOM, TBI_T3, TBI_CELL_HOM_FIT_V)
lcm(bot[2], TBI_CELL_LCM, TBI_T3, TBI_CELL_LCM_FIT_V)
lcm(bot[3], TBI_OCELL_LCM)
lcm(bot[4], TBI_ICELL_LCM)
lcm(bot[5], TBI_OCAS_LCM, TBI_T3, TBI_OCAS_LCM_FIT_V)
lcm(bot[6], TBI_ICAS_LCM, TBI_T3, TBI_ICAS_LCM_FIT_V)

text(95, 1137, "Linezolid (90 mg/kg)", 15, xanchor="left")
text(85, 1355, "TBI-223 (200 mg/kg)", 15, xanchor="left")
text(631, 1334, "Time after dose (hrs)", 15)
text(631, 1555, "Time after dose (hrs)", 15)
text(52, 1330, "Concentration (<span style='color:%s'>mg/L</span> or mg/kg)" % RED, 15, angle=-90)

# ============================ LEGENDS ============================
LEG = 11


def key(cx, cy, color, kind="dot"):
    pline(cx - 8, cy, cx + 8, cy, color, 1.5)
    if kind == "dot":
        pcircle(cx, cy, 1.9, color, color, 0.5)
    elif kind == "open":
        pcircle(cx, cy, 3.6, "white", color, 1.6)


def legend_row(r1, r2, total_keys, combo_keys):
    mid = (r1 + r2) / 2
    text(34, mid, "BLQ", LEG, xanchor="left")
    pcircle(68, mid, 2.2, "white", "#555555", 0.8)
    text(73, mid, "0", LEG, xanchor="left")
    pcircle(96, mid, 2.0, "#222222", "#222222", 0.5)
    text(101, mid, "1", LEG, xanchor="left")
    text(128, mid, "Dose mg/kg", LEG, xanchor="left")
    for lab, col, cx, row in (("3", BLUE, 207, r1), ("25", YELLOW, 245, r1), ("250", PURPLE, 281, r1),
                              ("5", DGREY, 207, r2), ("100", RED, 245, r2), ("500", TEAL, 281, r2)):
        key(cx, row, col)
        text(cx + 9, row, lab, LEG, xanchor="left")
    text(394, mid, "Dose frequency", LEG, xanchor="left")
    for lab, r, cx, row in (("0", 2.0, 486, r1), ("24", 5.0, 526, r1), ("12", 3.6, 486, r2), ("48", 6.2, 526, r2)):
        pcircle(cx, row, r, "#8C8C8C", "#8C8C8C", 0.5)
        text(cx + 8, row, lab, LEG, xanchor="left")
    text(568, r1, "Total Weekly", LEG, xanchor="left")
    text(568, r2, "Dose (mg/kg)", LEG, xanchor="left")
    for lab, col, cx, row in total_keys:
        key(cx, row, col)
        text(cx + 10, row, lab, LEG, xanchor="left")
    text(794, mid, "Dose mg/kg", LEG, xanchor="left")
    key(880, r1 - 3, BLUE, "open")
    text(891, r1 - 3, "B25Pa25", LEG, xanchor="left")
    text(872, r2 + 1, "BPa +", LEG, xanchor="left")
    for lab, col, cx in combo_keys:
        key(cx, r2 + 1, col, "open")
        text(cx + 10, r2 + 1, lab, LEG, xanchor="left")


legend_row(533, 549,
           [("0", BLUE, 660, 533), ("300", YELLOW, 706, 533), ("1000", DGREY, 660, 549), ("3000", TEAL, 706, 549)],
           [("100 QD", RED, 910), ("15 BID", TEAL, 970), ("30 BID", PURPLE, 1036), ("45 BID", ORANGE, 1097)])
legend_row(1073, 1089,
           [("0", BLUE, 660, 1073), ("300", YELLOW, 706, 1073), ("100", RED, 660, 1089), ("1000", DGREY, 706, 1089)],
           [("100 QD", RED, 910), ("12.5 BID", LGREY, 972), ("25 BID", YELLOW, 1042), ("50 BID", BLACK, 1102)])

pline(470, 1584, 488, 1584, "#222222", 1.3)
pcircle(479, 1584, 2.6, "#222222", "#222222", 0.5)
text(493, 1584, "Homogenate (LC-MS)", 12, xanchor="left")
pline(618, 1584, 636, 1584, "#222222", 1.3)
pcircle(627, 1584, 2.8, "white", "#222222", 1)
text(641, 1584, "Laser dissected (LCM)", 12, xanchor="left")

fig.update_layout(width=W, height=H, margin=dict(l=0, r=0, t=0, b=0, pad=0), paper_bgcolor="white",
                  plot_bgcolor="white", showlegend=False, font=dict(family=FONT, color=INK),
                  shapes=SHAPES, annotations=ANNS, **LAYOUT)
fig.write_html("out.html", config={"displayModeBar": False, "staticPlot": True},
               post_script="document.body.style.margin='0';")
